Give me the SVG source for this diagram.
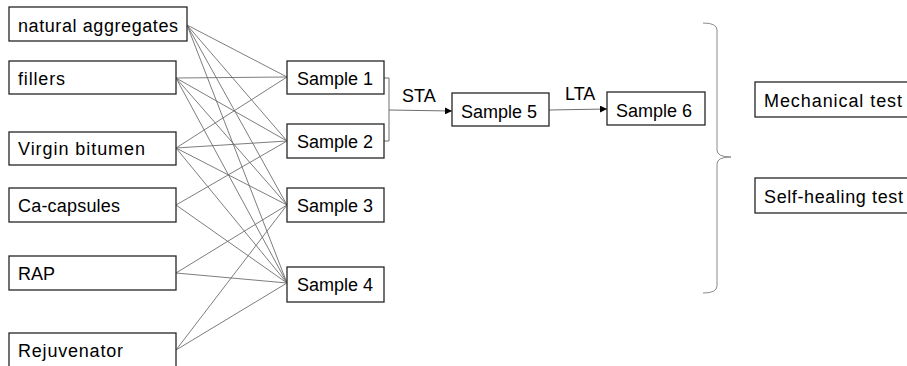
<svg xmlns="http://www.w3.org/2000/svg" width="907" height="366" viewBox="0 0 907 366">
<style>
.box{fill:#fff;stroke:#262626;stroke-width:1.3}
.t{font-family:"Liberation Sans",Arial,sans-serif;font-size:18px;fill:#000}
.ln{stroke:#6e6e6e;stroke-width:0.9;fill:none}
.ar{stroke:#6e6e6e;stroke-width:1;fill:none}
</style>
<defs>
<marker id="ah" viewBox="0 0 10 10" refX="10" refY="5" markerWidth="7" markerHeight="7" markerUnits="userSpaceOnUse" orient="auto">
<path d="M0,0 L10,5 L0,10 z" fill="#000"/>
</marker>
</defs>
<rect width="907" height="366" fill="#fff"/>
<g id="connectors">
<line class="ln" x1="187" y1="25" x2="287" y2="77"/>
<line class="ln" x1="187" y1="25" x2="287" y2="141"/>
<line class="ln" x1="187" y1="25" x2="287" y2="205"/>
<line class="ln" x1="187" y1="25" x2="287" y2="283"/>
<line class="ln" x1="176" y1="78" x2="287" y2="77"/>
<line class="ln" x1="176" y1="78" x2="287" y2="141"/>
<line class="ln" x1="176" y1="78" x2="287" y2="205"/>
<line class="ln" x1="176" y1="78" x2="287" y2="283"/>
<line class="ln" x1="176" y1="148" x2="287" y2="77"/>
<line class="ln" x1="176" y1="148" x2="287" y2="141"/>
<line class="ln" x1="176" y1="148" x2="287" y2="205"/>
<line class="ln" x1="176" y1="148" x2="287" y2="283"/>
<line class="ln" x1="176" y1="205" x2="287" y2="141"/>
<line class="ln" x1="176" y1="205" x2="287" y2="283"/>
<line class="ln" x1="176" y1="273" x2="287" y2="205"/>
<line class="ln" x1="176" y1="273" x2="287" y2="283"/>
<line class="ln" x1="176" y1="350" x2="287" y2="205"/>
<line class="ln" x1="176" y1="350" x2="287" y2="283"/>
<polyline class="ar" points="384,78 389,78 389,141 384,141"/>
<line class="ar" x1="389" y1="110" x2="452" y2="111" marker-end="url(#ah)"/>
<line class="ar" x1="549" y1="110" x2="607" y2="109" marker-end="url(#ah)"/>
<path d="M703,23 Q717,23 717,30 L717,150 Q717,157 731,157 Q717,157 717,164 L717,286 Q717,293 703,293" fill="none" stroke="#8a8a8a" stroke-width="1"/>
</g>
<g id="natural-aggregates"><rect class="box" x="9" y="7" width="178" height="34"/><text class="t" x="18" y="32" textLength="160" lengthAdjust="spacing">natural aggregates</text></g>
<g id="fillers"><rect class="box" x="9" y="61" width="167" height="33"/><text class="t" x="18" y="85" textLength="47" lengthAdjust="spacing">fillers</text></g>
<g id="virgin-bitumen"><rect class="box" x="9" y="132" width="167" height="33"/><text class="t" x="18" y="155" textLength="127" lengthAdjust="spacing">Virgin bitumen</text></g>
<g id="ca-capsules"><rect class="box" x="9" y="188" width="167" height="34"/><text class="t" x="18" y="212" textLength="102" lengthAdjust="spacing">Ca-capsules</text></g>
<g id="rap"><rect class="box" x="9" y="256" width="167" height="34"/><text class="t" x="18" y="280">RAP</text></g>
<g id="rejuvenator"><rect class="box" x="9" y="333" width="167" height="40"/><text class="t" x="18" y="357" textLength="105" lengthAdjust="spacing">Rejuvenator</text></g>
<g id="sample-1"><rect class="box" x="287" y="61" width="97" height="33"/><text class="t" x="297" y="85">Sample 1</text></g>
<g id="sample-2"><rect class="box" x="287" y="124" width="97" height="34"/><text class="t" x="297" y="148">Sample 2</text></g>
<g id="sample-3"><rect class="box" x="287" y="188" width="97" height="34"/><text class="t" x="297" y="212">Sample 3</text></g>
<g id="sample-4"><rect class="box" x="287" y="267" width="97" height="35"/><text class="t" x="297" y="291">Sample 4</text></g>
<g id="sample-5"><rect class="box" x="452" y="93" width="97" height="33"/><text class="t" x="461" y="118">Sample 5</text></g>
<g id="sample-6"><rect class="box" x="607" y="92" width="98" height="33"/><text class="t" x="616" y="117">Sample 6</text></g>
<g id="labels"><text class="t" x="402" y="102">STA</text><text class="t" x="565" y="100">LTA</text></g>
<g id="mechanical-test"><rect class="box" x="755" y="82" width="160" height="35"/><text class="t" x="764" y="107" textLength="138" lengthAdjust="spacing">Mechanical test</text></g>
<g id="self-healing-test"><rect class="box" x="755" y="178" width="160" height="35"/><text class="t" x="764" y="203" textLength="139" lengthAdjust="spacing">Self-healing test</text></g>
</svg>
